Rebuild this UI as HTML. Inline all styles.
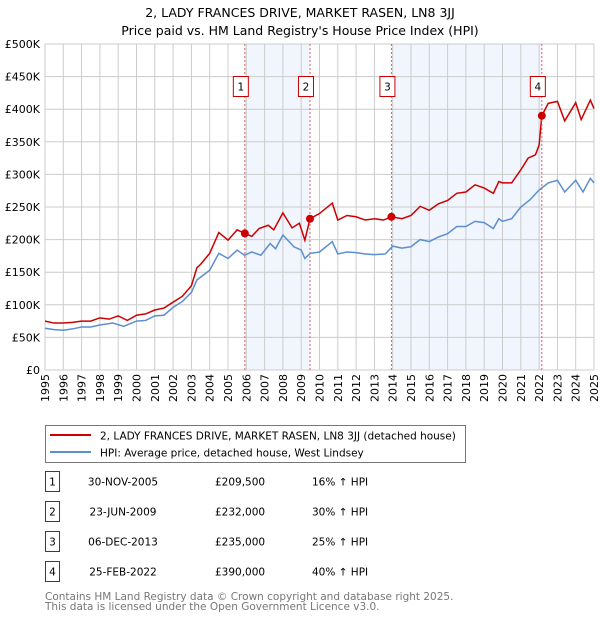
<!DOCTYPE html>
<html><head><meta charset="utf-8"><style>
body{margin:0;background:#fff;font-family:"DejaVu Sans","Liberation Sans",sans-serif;}
svg text{font-family:"DejaVu Sans","Liberation Sans",sans-serif;}
</style></head><body>
<svg id="c" width="600" height="620" xmlns="http://www.w3.org/2000/svg">
<text x="300" y="17" text-anchor="middle" font-size="12.5">2, LADY FRANCES DRIVE, MARKET RASEN, LN8 3JJ</text>
<text x="300" y="35" text-anchor="middle" font-size="12.5">Price paid vs. HM Land Registry's House Price Index (HPI)</text>
<g id="shade"></g><g id="grid"></g><g id="axes"></g><g id="lines"></g><g id="marks"></g>
<g>
<rect x="45.5" y="425.5" width="420" height="37" fill="#fff" stroke="#777"/>
<line x1="50" y1="435" x2="91" y2="435" stroke="#cc0000" stroke-width="2"/>
<text x="100" y="439.5" font-size="10.5">2, LADY FRANCES DRIVE, MARKET RASEN, LN8 3JJ (detached house)</text>
<line x1="50" y1="452" x2="91" y2="452" stroke="#5b8fd0" stroke-width="2"/>
<text x="100" y="456.5" font-size="10.5">HPI: Average price, detached house, West Lindsey</text>
</g>
<g id="table" font-size="10.5"></g>
<text x="45" y="600" font-size="10.5" fill="#777">Contains HM Land Registry data © Crown copyright and database right 2025.</text>
<text x="45" y="610" font-size="10.5" fill="#777">This data is licensed under the Open Government Licence v3.0.</text>
</svg>
<script>
const yTicks=[0,50000,100000,150000,200000,250000,300000,350000,400000,450000,500000];
const yTickLabels=["£0","£50K","£100K","£150K","£200K","£250K","£300K","£350K","£400K","£450K","£500K"];
const xYears=[1995,1996,1997,1998,1999,2000,2001,2002,2003,2004,2005,2006,2007,2008,2009,2010,2011,2012,2013,2014,2015,2016,2017,2018,2019,2020,2021,2022,2023,2024,2025];
const hpiT=[1995,1995.5,1996,1996.5,1997,1997.5,1998,1998.7,1999.3,2000,2000.5,2001,2001.5,2002,2002.5,2003,2003.3,2004,2004.5,2005,2005.5,2005.9,2006.3,2006.8,2007.3,2007.6,2008,2008.6,2009,2009.2,2009.5,2010,2010.7,2011,2011.5,2012,2012.5,2013,2013.6,2014,2014.5,2015,2015.5,2016,2016.5,2017,2017.5,2018,2018.5,2019,2019.5,2019.8,2020,2020.5,2021,2021.5,2022,2022.5,2023,2023.4,2024,2024.4,2024.8,2025];
const hpiV=[64,62,61,63,66,66,69,72,67,75,76,83,84,96,105,119,138,153,179,171,184,176,181,176,194,186,207,189,184,171,179,181,197,178,181,180,178,177,178,190,187,189,200,197,204,209,220,220,228,226,217,232,228,232,250,261,276,287,291,273,291,273,294,287];
const prT=[1995,1995.5,1996,1996.5,1997,1997.5,1998,1998.5,1999,1999.5,2000,2000.5,2001,2001.5,2002,2002.5,2003,2003.3,2003.5,2004,2004.5,2005,2005.5,2005.92,2006.3,2006.7,2007.2,2007.5,2008,2008.5,2008.9,2009.2,2009.48,2010,2010.7,2011,2011.5,2012,2012.5,2013,2013.5,2013.93,2014.5,2015,2015.5,2016,2016.5,2017,2017.5,2018,2018.5,2019,2019.5,2019.8,2020,2020.5,2021,2021.4,2021.8,2022.0,2022.15,2022.5,2023,2023.4,2024,2024.3,2024.8,2025];
const prV=[75,72,72,73,75,75,80,78,83,76,84,86,92,95,104,113,129,157,162,179,211,199,215,209.5,205,217,222,215,241,218,225,199,232,240,256,230,237,235,230,232,230,235,232,237,251,245,255,260,271,273,284,279,271,289,287,287,307,325,330,345,390,409,412,382,410,384,414,401];
const saleNum=["1","2","3","4"];
const saleT=[2005.92,2009.48,2013.93,2022.15];
const saleV=[209500,232000,235000,390000];
const saleDate=["30-NOV-2005","23-JUN-2009","06-DEC-2013","25-FEB-2022"];
const salePrice=["£209,500","£232,000","£235,000","£390,000"];
const saleHpi=["16% ↑ HPI","30% ↑ HPI","25% ↑ HPI","40% ↑ HPI"];

const X0=45,X1=594,Y0=370,Y1=44;
const xs=t=>X0+(t-1995)/30*(X1-X0);
const ys=v=>Y0-v/500000*(Y0-Y1);
const NS="http://www.w3.org/2000/svg";
function mk(p,tag,a){const e=document.createElementNS(NS,tag);for(const k in a)e.setAttribute(k,a[k]);p.appendChild(e);return e;}
const shade=document.getElementById('shade'),grid=document.getElementById('grid'),axes=document.getElementById('axes'),lines=document.getElementById('lines'),marks=document.getElementById('marks'),table=document.getElementById('table');
for(let i=0;i<2;i++){
 const r=mk(shade,'rect',{x:xs(saleT[i*2]),y:Y1,width:xs(saleT[i*2+1])-xs(saleT[i*2]),height:Y0-Y1,fill:'#eef3fc',opacity:0.8});
 
 
}
xYears.forEach(y=>{
 const l=mk(grid,'line',{x1:xs(y),x2:xs(y),y1:Y1,y2:Y0,stroke:'#cccccc','stroke-width':1});
 
 
 const t=mk(axes,'text',{x:0,y:0,'font-size':11,'text-anchor':'end',transform:`translate(${xs(y)+4},374) rotate(-90)`});
 t.textContent=y;
 
 
});
yTicks.forEach((v,i)=>{
 const l=mk(grid,'line',{x1:X0,x2:X1,y1:ys(v),y2:ys(v),stroke:'#cccccc','stroke-width':1});
 
 
 const t=mk(axes,'text',{x:40,y:ys(v)+4,'font-size':11,'text-anchor':'end'});
 t.textContent=yTickLabels[i];
 
 
});
mk(axes,'rect',{x:X0,y:Y1,width:X1-X0,height:Y0-Y1,fill:'none',stroke:'#cccccc'});
const hp=mk(lines,'polyline',{points:hpiT.map((t,i)=>xs(t)+','+ys(hpiV[i]*1000)).join(' '),fill:'none',stroke:'#5b8fd0','stroke-width':1.5});


const pp=mk(lines,'polyline',{points:prT.map((t,i)=>xs(t)+','+ys(prV[i]*1000)).join(' '),fill:'none',stroke:'#cc0000','stroke-width':1.5});


saleT.forEach((t,i)=>{
 const x=xs(t);
 const l=mk(marks,'line',{x1:x,x2:x,y1:Y1,y2:Y0,stroke:'#e06060','stroke-dasharray':'2,2','stroke-width':1});
 
 
 const c=mk(marks,'circle',{cx:x,cy:ys(saleV[i]),r:4,fill:'#cc0000'});
 
 
 const b=mk(marks,'rect',{x:x-11.5,y:76.5,width:15,height:20,fill:'#fff',stroke:'#cc0000'});
 
 
 const tx=mk(marks,'text',{x:x-4,y:90.5,'font-size':10.5,'text-anchor':'middle'});
 tx.textContent=saleNum[i];
 
 
 const cy=482+i*30;
 const rb=mk(table,'rect',{x:45.5,y:cy-10.5,width:14,height:20,fill:'#fff',stroke:'#cc0000'});
 
 
 const n=mk(table,'text',{x:52.5,y:cy+3.5,'text-anchor':'middle'});n.textContent=saleNum[i];
 
 
 const d=mk(table,'text',{x:123,y:cy+3.5,'text-anchor':'middle'});d.textContent=saleDate[i];
 
 
 const p=mk(table,'text',{x:215,y:cy+3.5});p.textContent=salePrice[i];
 
 
 const h=mk(table,'text',{x:312,y:cy+3.5});h.textContent=saleHpi[i];
 
 
});
</script>
</body></html>
